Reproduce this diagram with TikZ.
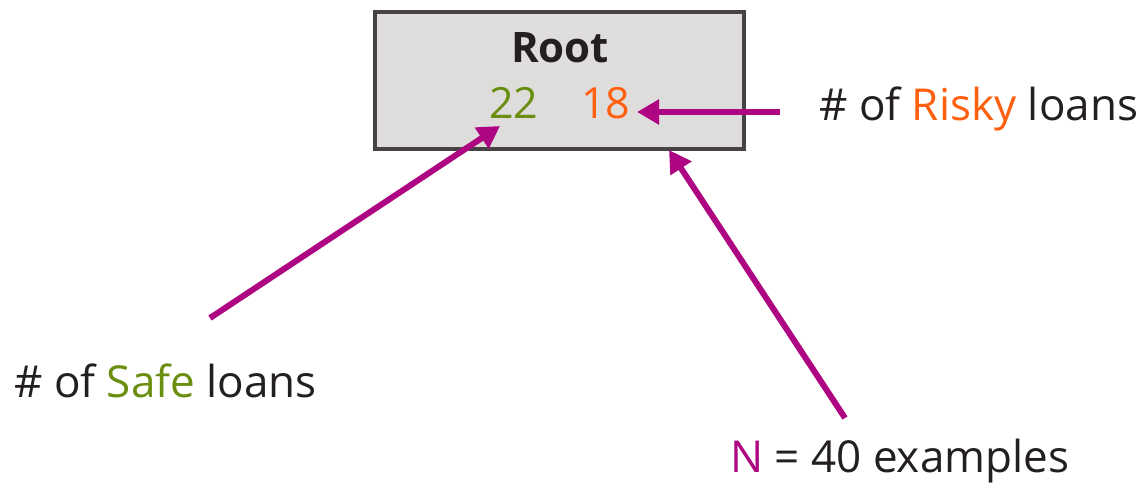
\documentclass[tikz,border=0pt]{standalone}
\usepackage{fontspec}
\setmainfont{Open Sans}
\usetikzlibrary{arrows.meta}
\definecolor{boxfill}{HTML}{DEDDDC}
\definecolor{boxline}{HTML}{474344}
\definecolor{safegreen}{HTML}{6A8E0F}
\definecolor{riskorange}{HTML}{FF6010}
\definecolor{arrowmag}{HTML}{AE0683}
\definecolor{txt}{HTML}{231F20}
\tikzset{
  lbl/.style={inner sep=0pt, anchor=base west, text=txt, font=\fontsize{44}{52}\selectfont},
  num/.style={inner sep=0pt, anchor=base west, font=\fontsize{43}{52}\selectfont},
  pointer/.style={draw=arrowmag, line width=6pt, -{Triangle[length=22pt,width=24pt]}},
}
\begin{document}
\begin{tikzpicture}[x=1pt,y=-1pt]
\useasboundingbox (0,0) rectangle (1146,486);
\node[draw=boxline, fill=boxfill, line width=3.5pt, minimum width=369pt, minimum height=137pt, inner sep=0pt] (root) at (559.5,80.5) {};
\node[inner sep=0pt, anchor=base, text=txt, font=\fontsize{42}{50}\selectfont\bfseries] (rootlbl) at (560,63) {Root};
\node[num, text=safegreen] (safe) at (489,119) {22};
\node[num, text=riskorange] (risky) at (581,119) {18};
\node[lbl] (risklbl) at (819,121) {\# of \textcolor{riskorange}{Risky} loans};
\node[lbl] (safelbl) at (14,397) {\# of \textcolor{safegreen}{Safe} loans};
\node[lbl] (nlbl) at (730,472) {\textcolor{arrowmag}{N} = 40 examples};
\coordinate (a1s) at (780,112);
\coordinate (a1e) at (637,112);
\coordinate (a2s) at (210,318);
\coordinate (a2e) at (500,126);
\coordinate (a3s) at (845,418);
\coordinate (a3e) at (669,150);
\draw[pointer] (a1s) -- (a1e);
\draw[pointer] (a2s) -- (a2e);
\draw[pointer] (a3s) -- (a3e);
\end{tikzpicture}
\end{document}
